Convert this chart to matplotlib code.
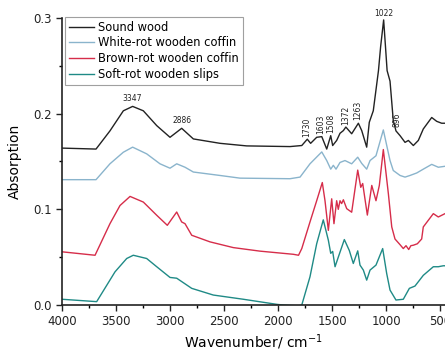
import matplotlib
matplotlib.use("Agg")
import matplotlib.pyplot as plt
from matplotlib.ticker import MultipleLocator

# ---- data (wavenumber, absorption) ----
sound_wn = [4000, 3685, 3556, 3432, 3346, 3247, 3123, 3000, 2892, 2784, 2537, 2290, 1889,
            1780, 1729, 1698, 1642, 1595, 1549, 1512, 1494, 1457, 1426, 1395, 1372, 1318,
            1256, 1225, 1179, 1155, 1118, 1070, 1050, 1022, 1005, 990, 963, 933, 908, 870,
            824, 793, 747, 701, 655, 577, 531, 485, 454]
sound_ab = [0.164, 0.163, 0.182, 0.203, 0.2076, 0.203, 0.1875, 0.1753, 0.1847, 0.1736, 0.169,
            0.1663, 0.1656, 0.1667, 0.1733, 0.169, 0.1753, 0.176, 0.163, 0.177, 0.1667, 0.172,
            0.1795, 0.1823, 0.186, 0.179, 0.190, 0.1823, 0.165, 0.191, 0.203, 0.245, 0.270,
            0.298, 0.270, 0.245, 0.234, 0.193, 0.182, 0.177, 0.170, 0.172, 0.1667, 0.172,
            0.184, 0.196, 0.192, 0.190, 0.190]

white_wn = [4000, 3685, 3556, 3432, 3346, 3216, 3093, 3000, 2938, 2861, 2784, 2537, 2352,
            1889, 1796, 1704, 1595, 1549, 1512, 1488, 1463, 1426, 1380, 1318, 1262, 1225,
            1179, 1148, 1093, 1025, 963, 933, 870, 824, 778, 716, 655, 577, 516, 454]
white_ab = [0.131, 0.131, 0.1476, 0.1597, 0.165, 0.158, 0.1476, 0.143, 0.1476, 0.144, 0.139,
            0.1354, 0.1326, 0.132, 0.1337, 0.1476, 0.160, 0.151, 0.142, 0.146, 0.142, 0.149,
            0.151, 0.1476, 0.1545, 0.148, 0.142, 0.151, 0.156, 0.183, 0.151, 0.1406, 0.1354,
            0.1337, 0.1354, 0.138, 0.142, 0.147, 0.144, 0.145]

brown_wn = [4000, 3694, 3556, 3463, 3370, 3247, 3123, 3025, 2938, 2892, 2861, 2799, 2630,
            2414, 2167, 1858, 1810, 1780, 1704, 1642, 1590, 1565, 1534, 1503, 1482, 1457,
            1442, 1426, 1411, 1395, 1364, 1318, 1262, 1234, 1216, 1173, 1132, 1093, 1062,
            1025, 978, 947, 917, 870, 840, 815, 790, 770, 747, 710, 670, 655, 562, 516, 454]
brown_ab = [0.0556, 0.052, 0.085, 0.104, 0.1135, 0.1076, 0.0938, 0.0833, 0.0972, 0.0868,
            0.085, 0.0729, 0.066, 0.060, 0.0563, 0.053, 0.052, 0.059, 0.0868, 0.109, 0.128,
            0.109, 0.078, 0.111, 0.085, 0.109, 0.100, 0.109, 0.106, 0.110, 0.1007, 0.097,
            0.141, 0.123, 0.127, 0.094, 0.125, 0.109, 0.125, 0.1625, 0.116, 0.0816, 0.069,
            0.063, 0.059, 0.062, 0.058, 0.062, 0.0625, 0.064, 0.069, 0.0816, 0.0955, 0.092,
            0.0955]

soft_wn = [4000, 3679, 3509, 3401, 3340, 3216, 3123, 3000, 2938, 2799, 2599, 2321, 2012,
           1954, 1810, 1780, 1704, 1642, 1581, 1534, 1512, 1494, 1472, 1442, 1386, 1340,
           1303, 1262, 1241, 1210, 1179, 1148, 1093, 1031, 994, 963, 908, 840, 784, 732,
           655, 562, 516, 470, 454]
soft_ab = [0.006, 0.0035, 0.0347, 0.0486, 0.052, 0.0486, 0.040, 0.0288, 0.028, 0.0174,
           0.0104, 0.006, 0.0007, 0.0, -0.001, 0.0, 0.0295, 0.064, 0.089, 0.0677, 0.054,
           0.056, 0.040, 0.050, 0.0684, 0.057, 0.0434, 0.0566, 0.0417, 0.0365, 0.026, 0.0365,
           0.0417, 0.059, 0.033, 0.0156, 0.0052, 0.006, 0.0174, 0.0198, 0.031, 0.040, 0.040,
           0.041, 0.041]

series_names = ["Sound wood", "White-rot wooden coffin", "Brown-rot wooden coffin",
                "Soft-rot wooden slips"]
series_colors = ["#222222", "#8ab4cc", "#d62d4a", "#1f8a86"]

peak_labels = ["3347", "2886", "1730", "1603", "1508", "1372", "1263", "1022", "896"]
peak_pos = [3347, 2886, 1730, 1603, 1508, 1372, 1263, 1022, 896]
peak_y = [0.211, 0.188, 0.176, 0.179, 0.180, 0.188, 0.193, 0.300, 0.186]
peak_rot = [0, 0, 90, 90, 90, 90, 90, 0, 90]

xticks = [4000, 3500, 3000, 2500, 2000, 1500, 1000, 500]
yticks = [0.0, 0.1, 0.2, 0.3]

fig = plt.figure(figsize=(4.45, 3.51), dpi=100)
ax = fig.add_axes([62/445, 1-305/351, 1-62/445, (305-18)/351])

for wn, ab, name, col in zip([sound_wn, white_wn, brown_wn, soft_wn],
                             [sound_ab, white_ab, brown_ab, soft_ab],
                             series_names, series_colors):
    ax.plot(wn, ab, color=col, lw=1.0, label=name, solid_joinstyle="round")

for lab, x, y, r in zip(peak_labels, peak_pos, peak_y, peak_rot):
    ax.text(x, y, lab, rotation=r, ha="center", va="bottom", fontsize=5.5, color="#222222")

ax.set_xlim(4000, 454)
ax.set_ylim(0, 0.3)
ax.set_xticks(xticks)
ax.set_xticklabels([str(v) for v in xticks])
ax.set_yticks(yticks)
ax.set_yticklabels([f"{v:.1f}" for v in yticks])
ax.xaxis.set_minor_locator(MultipleLocator(250))
ax.yaxis.set_minor_locator(MultipleLocator(0.05))
ax.tick_params(which="major", direction="out", length=4, width=1, labelsize=8.5, colors="#222222")
ax.tick_params(which="minor", direction="out", length=2.5, width=1)
for s in ["top", "right"]:
    ax.spines[s].set_visible(False)
for s in ["left", "bottom"]:
    ax.spines[s].set_linewidth(1.2)
    ax.spines[s].set_color("#222222")

ax.set_xlabel("Wavenumber/ cm$^{-1}$", fontsize=10, labelpad=3)
ax.set_ylabel("Absorption", fontsize=10, labelpad=8)

leg = ax.legend(loc="upper left", bbox_to_anchor=(0.008, 1.003), fontsize=8.3, frameon=True,
                fancybox=False, handlelength=2.2, borderpad=0.3, labelspacing=0.25,
                handletextpad=0.4, borderaxespad=0)
leg.get_frame().set_edgecolor("#888888")
leg.get_frame().set_linewidth(0.8)

fig.savefig("out.png", dpi=100)
